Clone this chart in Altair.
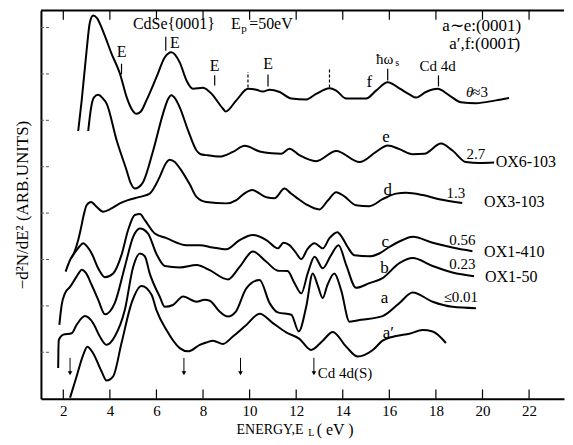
import altair as alt
import pandas as pd

# ---- curve data (E in eV, y in arbitrary units) ----
f_E = [2.64,2.79,3.00,3.14,3.28,3.44,3.70,4.07,4.43,4.72,4.94,5.14,5.33,5.57,6.00,6.36,6.64,7.00,7.29,7.57,8.00,8.29,8.86,8.97,9.43,9.93,10.29,10.57,10.86,11.29,11.79,12.43,12.86,13.43,13.72,14.15,15.00,15.43,15.93,16.43,16.86,17.15,17.57,18.07,18.57,19.07,19.72,20.57,21.14]
f_y = [5.77,6.43,7.50,8.11,8.26,8.21,7.93,7.44,7.01,6.50,6.24,6.14,6.19,6.43,6.93,7.36,7.47,7.25,6.86,6.68,6.70,6.61,6.25,6.19,6.43,6.68,6.66,6.62,6.66,6.61,6.47,6.45,6.57,6.69,6.64,6.47,6.47,6.64,6.82,6.69,6.56,6.49,6.61,6.68,6.54,6.39,6.37,6.43,6.48]

e_E = [3.07,3.19,3.31,3.50,3.70,3.86,4.29,4.72,4.90,5.07,5.24,5.43,5.86,6.28,6.49,6.64,6.83,7.00,7.36,7.72,7.90,8.14,8.71,9.28,9.79,10.43,10.94,11.36,11.71,12.14,12.86,13.72,14.72,15.43,15.93,16.43,17.00,17.50,18.22,18.71,19.29,19.86,20.50]
e_y = [5.77,6.26,6.49,6.55,6.47,6.36,5.57,4.92,4.64,4.53,4.56,4.67,5.35,6.14,6.45,6.54,6.45,6.28,5.78,5.35,5.27,5.25,5.22,5.32,5.45,5.33,5.29,5.28,5.39,5.25,5.12,5.34,5.10,5.32,5.46,5.38,5.27,5.28,5.50,5.35,5.10,5.08,5.09]

d_E = [2.10,2.29,2.46,2.64,2.76,2.86,3.00,3.19,3.44,3.71,4.07,4.43,4.78,5.29,5.71,6.14,6.40,6.57,6.79,7.00,7.43,7.72,8.14,9.00,9.43,9.74,10.11,10.34,10.72,11.07,11.50,11.76,12.00,12.43,13.00,13.34,13.72,14.07,14.57,15.14,15.71,16.29,16.72,17.43,18.14,19.13]
d_y = [2.74,2.99,3.14,3.42,3.68,3.92,4.17,4.24,4.13,4.03,4.10,4.21,4.28,4.35,4.42,4.78,5.07,5.15,5.10,4.97,4.62,4.35,4.24,4.21,4.28,4.41,4.50,4.45,4.34,4.32,4.53,4.43,4.34,4.19,4.08,4.26,4.45,4.36,4.17,4.15,4.30,4.42,4.44,4.39,4.30,4.22]

c_E = [2.33,2.57,2.71,2.86,3.01,3.22,3.50,3.79,4.14,4.50,4.78,5.07,5.29,5.50,5.93,6.43,7.29,7.86,8.41,9.00,9.57,10.14,10.72,11.21,11.46,11.71,11.97,12.22,12.49,12.79,13.14,13.43,13.77,13.99,14.21,14.50,15.14,15.57,16.00,16.57,17.00,17.86,18.71,19.57]
c_y = [3.03,3.20,3.29,3.35,3.29,3.13,2.81,2.62,2.70,3.10,3.63,3.96,3.98,3.85,3.56,3.46,3.31,3.31,3.26,3.22,3.42,3.53,3.42,3.24,3.36,3.31,3.16,3.01,3.23,3.35,3.24,3.46,3.59,3.46,3.27,3.09,3.07,3.13,3.27,3.42,3.49,3.36,3.26,3.18]

b_E = [1.83,1.93,2.07,2.29,2.57,2.80,2.97,3.22,3.50,3.79,4.21,4.64,5.00,5.29,5.64,6.00,6.36,7.00,7.72,8.29,8.86,9.07,9.57,10.14,10.72,11.21,11.63,11.93,12.22,12.50,12.79,13.14,13.47,13.82,14.15,14.57,15.14,15.71,16.43,17.00,17.86,18.71,19.64]
b_y = [1.59,2.02,2.27,2.41,2.63,2.78,2.71,2.45,2.13,1.82,2.06,2.84,3.49,3.67,3.56,3.12,2.86,2.83,2.88,2.77,2.60,2.57,2.84,3.17,2.95,2.76,2.75,2.49,2.27,2.71,3.06,2.81,3.07,3.31,2.88,2.39,2.49,2.60,2.92,3.03,2.86,2.72,2.64]

a_E = [1.78,1.79,1.81,2.00,2.36,2.57,2.93,3.28,3.57,3.86,4.21,4.64,5.00,5.29,5.50,5.71,6.14,6.36,6.71,7.14,7.72,8.07,8.29,8.71,9.07,9.40,9.86,10.43,10.86,11.21,11.79,12.11,12.43,12.71,12.92,13.14,13.34,13.64,13.93,14.29,14.79,15.71,16.43,17.00,17.86,18.71,19.72]
a_y = [0.66,1.05,1.27,1.38,1.41,1.59,1.78,1.63,1.34,1.16,1.34,1.91,2.84,3.13,3.07,2.70,2.20,1.98,2.02,2.20,2.09,2.13,2.11,1.88,1.77,1.87,2.38,2.56,2.06,1.86,1.81,1.45,1.98,2.70,2.45,2.17,2.45,2.70,2.34,1.66,1.70,1.78,2.06,2.29,2.09,1.98,1.95]

ap_E = [2.29,2.57,2.86,3.03,3.28,3.64,3.86,4.14,4.50,4.93,5.36,5.79,6.00,6.43,7.00,7.36,7.86,8.14,8.43,8.86,9.28,9.86,10.43,11.00,11.57,12.14,12.64,13.14,13.57,14.15,14.64,15.29,15.71,16.29,16.86,17.43,17.86,18.43]
ap_y = [0.02,0.48,0.95,1.12,0.98,0.59,0.39,0.48,1.20,2.06,2.43,2.24,1.91,1.48,1.09,1.02,1.16,1.21,1.25,1.18,1.34,1.59,1.83,1.63,1.43,1.29,1.05,1.25,1.44,1.12,0.91,1.05,1.25,1.35,1.40,1.48,1.45,1.20]

# axis tick values
x_ticks = [2, 4, 6, 8, 10, 12, 14, 16, 18, 20, 22]
y_ticks = [1, 2, 3, 4, 5, 6, 7, 8]

# marker ticks above curve f: (E, y_bottom, y_top, dashed)
marker_E = [4.50, 6.40, 8.50, 9.93, 10.79, 13.43, 15.93, 18.11]
marker_y1 = [6.99, 7.50, 6.75, 6.71, 6.73, 6.71, 6.86, 6.73]
marker_y2 = [7.22, 7.80, 6.97, 7.04, 6.99, 7.11, 7.11, 6.97]
marker_dash = [0, 0, 0, 1, 0, 1, 0, 0]

# down arrows
arrow_E = [2.29, 7.18, 9.61, 12.76]

# labels: centered
lab_c_t = ["E", "E", "E", "E", "f", "e", "d", "c", "b", "a", "a′",
           "2.7", "1.3", "0.56", "0.23", "≤0.01", "Cd  4d"]
lab_c_E = [4.50, 6.79, 8.50, 10.79, 15.14, 15.86, 15.93, 15.83, 15.79, 15.79, 15.96,
           19.72, 18.86, 19.14, 19.14, 19.07, 18.07]
lab_c_y = [7.47, 7.66, 7.18, 7.22, 6.82, 5.63, 4.49, 3.38, 2.81, 2.17, 1.41,
           5.28, 4.44, 3.42, 2.90, 2.20, 7.18]
lab_c_s = [16, 16, 16, 16, 17, 17, 17, 17, 17, 17, 17,
           15, 15, 15, 15, 15, 15]

# labels: left aligned
lab_l_t = ["OX6-103", "OX3-103", "OX1-410", "OX1-50",
           "CdSe{0001}", "E", "p", "=50eV",
           "a∼e:(0001)", "a′,f:(0001̄)",
           "ħω", "s", "≈3", "Cd  4d(S)",
           "ENERGY,E", "L", "( eV )"]
lab_l_E = [20.57, 20.07, 20.07, 20.11,
           4.99, 9.20, 9.64, 9.98,
           18.27, 18.57,
           15.43, 16.25, 19.56, 12.93,
           9.44, 12.52, 12.88]
lab_l_y = [5.10, 4.24, 3.17, 2.63,
           8.08, 8.08, 7.96, 8.08,
           8.04, 7.65,
           7.32, 7.24, 6.61, 0.55,
           -0.67, -0.75, -0.67]
lab_l_s = [16, 16, 16, 16,
           16, 16, 11, 16,
           17, 17,
           15, 10, 15, 15,
           14, 10, 16]

# italic label
lab_i_t = ["θ"]
lab_i_E = [19.29]
lab_i_y = [6.61]

# ---- build tables ----
curves = {"f": (f_E, f_y), "e": (e_E, e_y), "d": (d_E, d_y), "c": (c_E, c_y),
          "b": (b_E, b_y), "a": (a_E, a_y), "ap": (ap_E, ap_y)}
rows = []
for name, (xs_, ys_) in curves.items():
    for i, (xv, yv) in enumerate(zip(xs_, ys_)):
        rows.append({"curve": name, "E": xv, "y": yv, "i": i})
df = pd.DataFrame(rows)

XMIN, XMAX = 1.04, 23.50
YMAX = 8.37
W, H = 524, 389
FONT = "Liberation Serif"

xsc = alt.Scale(domain=[XMIN, XMAX], nice=False, zero=False)
ysc = alt.Scale(domain=[0, YMAX], nice=False, zero=False)

x_axis = alt.Axis(values=x_ticks, ticks=False, tickSize=0, labelFont=FONT, labelFontSize=15,
                  labelColor="black", labelPadding=5, domainColor="black", domainWidth=2,
                  grid=False, title=None, format="d", labelFlush=False)
y_axis = alt.Axis(labels=False, ticks=False, tickSize=0, grid=False, domainColor="black",
                  domainWidth=2, title="−d²N/dE²   (ARB.UNITS)", titleFont=FONT,
                  titleFontSize=17, titleFontWeight="normal", titleColor="black",
                  titlePadding=9)
X = alt.X("E:Q", scale=xsc, axis=x_axis)
Y = alt.Y("y:Q", scale=ysc, axis=y_axis)

lines = alt.Chart(df).mark_line(color="black", strokeWidth=2, interpolate="monotone").encode(
    x=X, y=Y, detail="curve:N", order="i:Q")

bt = pd.DataFrame({"E": x_ticks, "y": [0.0] * len(x_ticks), "y2": [0.2] * len(x_ticks)})
tt = pd.DataFrame({"E": x_ticks, "y": [YMAX] * len(x_ticks), "y2": [YMAX - 0.2] * len(x_ticks)})
ticks_b = alt.Chart(bt).mark_rule(color="black", strokeWidth=1.2).encode(x=X, y=Y, y2="y2:Q")
ticks_t = alt.Chart(tt).mark_rule(color="black", strokeWidth=1.2).encode(x=X, y=Y, y2="y2:Q")
lt = pd.DataFrame({"E": [XMIN] * len(y_ticks), "E2": [XMIN + 0.38] * len(y_ticks), "y": y_ticks})
ticks_l = alt.Chart(lt).mark_rule(color="#555555", strokeWidth=1, strokeDash=[3, 2]).encode(
    x=X, x2="E2:Q", y=Y)

top_border = alt.Chart(pd.DataFrame({"k": [0]})).mark_rule(color="black", strokeWidth=2).encode(
    x=alt.value(0), x2=alt.value(W), y=alt.value(0))

mk = pd.DataFrame({"E": marker_E, "y": marker_y1, "y2": marker_y2, "dash": marker_dash})
mk_solid = alt.Chart(mk[mk.dash == 0]).mark_rule(color="black", strokeWidth=1.2).encode(
    x=X, y=Y, y2="y2:Q")
mk_dash = alt.Chart(mk[mk.dash == 1]).mark_rule(color="black", strokeWidth=1.2, strokeDash=[3, 2]).encode(
    x=X, y=Y, y2="y2:Q")

ar = pd.DataFrame({"E": arrow_E, "y": [0.88] * 4, "y2": [0.55] * 4, "yh": [0.55] * 4})
arrows = alt.Chart(ar).mark_rule(color="black", strokeWidth=1).encode(x=X, y=Y, y2="y2:Q")
heads = alt.Chart(ar).mark_point(shape="triangle-down", filled=True, color="black", size=22,
                                 opacity=1).encode(x=X, y=alt.Y("yh:Q", scale=ysc, axis=y_axis))

tc = pd.DataFrame({"t": lab_c_t, "E": lab_c_E, "y": lab_c_y, "s": lab_c_s})
tl = pd.DataFrame({"t": lab_l_t, "E": lab_l_E, "y": lab_l_y, "s": lab_l_s})
ti = pd.DataFrame({"t": lab_i_t, "E": lab_i_E, "y": lab_i_y, "s": [15]})
txt_c = alt.Chart(tc).mark_text(font=FONT, align="center", baseline="middle", color="black").encode(
    x=X, y=Y, text="t:N", size=alt.Size("s:Q", scale=None, legend=None))
txt_l = alt.Chart(tl).mark_text(font=FONT, align="left", baseline="middle", color="black").encode(
    x=X, y=Y, text="t:N", size=alt.Size("s:Q", scale=None, legend=None))
txt_i = alt.Chart(ti).mark_text(font=FONT, align="left", baseline="middle", color="black",
                                fontStyle="italic").encode(
    x=X, y=Y, text="t:N", size=alt.Size("s:Q", scale=None, legend=None))

chart = alt.layer(lines, ticks_b, ticks_t, ticks_l, top_border, mk_solid, mk_dash,
                  arrows, heads, txt_c, txt_l, txt_i).properties(
    width=W, height=H, padding={"left": 6, "top": 1, "right": 0, "bottom": 0},
    background="white"
).configure_view(stroke=None)

chart.save("out.html", embed_options={"renderer": "svg", "actions": False})
